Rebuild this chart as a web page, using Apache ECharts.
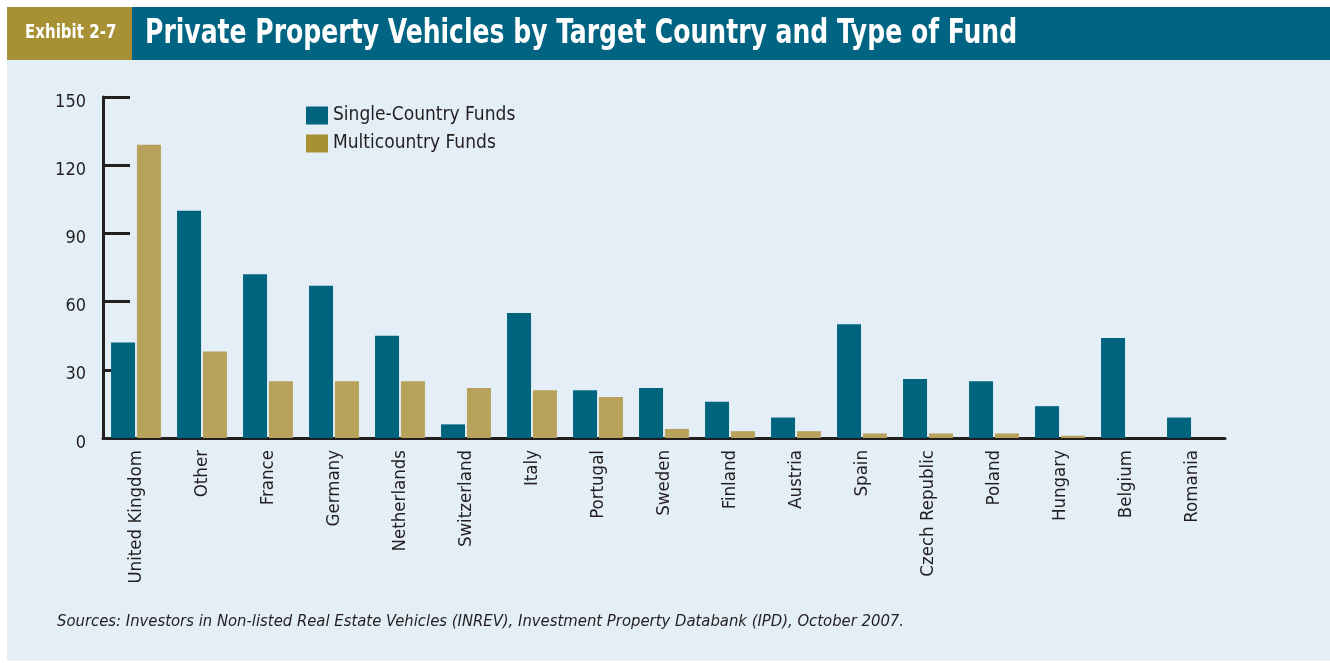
<!DOCTYPE html>
<html><head><meta charset="utf-8">
<script src="https://cdn.jsdelivr.net/npm/echarts@6/dist/echarts.min.js"></script>
<style>html,body{margin:0;padding:0;background:#fff}#c{width:1330px;height:663px}</style>
</head><body><div id="c"></div>
<script>
const categories = ['United Kingdom','Other','France','Germany','Netherlands','Switzerland','Italy','Portugal','Sweden','Finland','Austria','Spain','Czech Republic','Poland','Hungary','Belgium','Romania'];
const singleCountry = [42,100,72,67,45,6,55,21,22,16,9,50,26,25,14,44,9];
const multiCountry = [129,38,25,25,25,22,21,18,4,3,3,2,2,2,1,0,0];
const yTicks = {min:0, max:150, interval:30};
const seriesNames = ['Single-Country Funds','Multicountry Funds'];
const titleText = 'Private Property Vehicles by Target Country and Type of Fund';
const exhibitText = 'Exhibit 2-7';
const sourceText = 'Sources: Investors in Non-listed Real Estate Vehicles (INREV), Investment Property Databank (IPD), October 2007.';

const NARROW = '"Liberation Sans Narrow","DejaVu Sans Condensed","Liberation Sans",sans-serif';
const chart = echarts.init(document.getElementById('c'), null, {renderer:'canvas'});
chart.setOption({
  animation:false,
  backgroundColor:'#ffffff',
  graphic:[
    {type:'rect', shape:{x:7,y:60,width:1323,height:601}, style:{fill:'#e4eef7'}, z:-10},
    {type:'rect', shape:{x:7,y:7,width:125,height:53}, style:{fill:'#a89135'}, z:-5},
    {type:'rect', shape:{x:132,y:7,width:1198,height:53}, style:{fill:'#006482'}, z:-5},
    {type:'text', x:25, y:33, scaleX:0.88, style:{text:exhibitText, fill:'#fff', font:'bold 19px '+NARROW, textVerticalAlign:'middle'}},
    {type:'text', x:145, y:34, scaleX:0.82, style:{text:titleText, fill:'#fff', font:'bold 34px '+NARROW, textVerticalAlign:'middle'}},
    {type:'text', x:57, y:622, style:{text:sourceText, fill:'#231f20', font:'italic 16.5px '+NARROW, textVerticalAlign:'middle'}}
  ],
  legend:{
    left:301, top:101, orient:'vertical', itemWidth:22, itemHeight:18, itemGap:9,
    icon:'rect',
    textStyle:{fontFamily:NARROW, fontSize:19, color:'#231f20', padding:[0,0,0,0]},
    data:[{name:seriesNames[0], itemStyle:{color:'#00647f'}},{name:seriesNames[1], itemStyle:{color:'#a89135'}}]
  },
  grid:{left:103, right:105, top:97, bottom:225, containLabel:false},
  xAxis:{
    type:'category', data:categories, boundaryGap:true,
    axisLine:{lineStyle:{color:'#231f20', width:3}},
    axisTick:{inside:true, length:6, lineStyle:{color:'#231f20', width:3}},
    axisLabel:{rotate:90, fontFamily:NARROW, fontSize:18.5, color:'#231f20', margin:12, interval:0}
  },
  yAxis:{
    type:'value', min:yTicks.min, max:yTicks.max, interval:yTicks.interval,
    axisLine:{show:true, lineStyle:{color:'#231f20', width:3}},
    axisTick:{show:true, inside:true, length:27, lineStyle:{color:'#231f20', width:3}},
    splitLine:{show:false},
    axisLabel:{fontFamily:NARROW, fontSize:18, color:'#231f20', margin:17, verticalAlign:'top', lineHeight:10}
  },
  series:[
    {name:seriesNames[0], type:'bar', data:singleCountry, barWidth:24, barGap:'8%', itemStyle:{color:'#00647f'}},
    {name:seriesNames[1], type:'bar', data:multiCountry, barWidth:24, barGap:'8%', itemStyle:{color:'#b8a15a'}}
  ]
});
</script></body></html>
